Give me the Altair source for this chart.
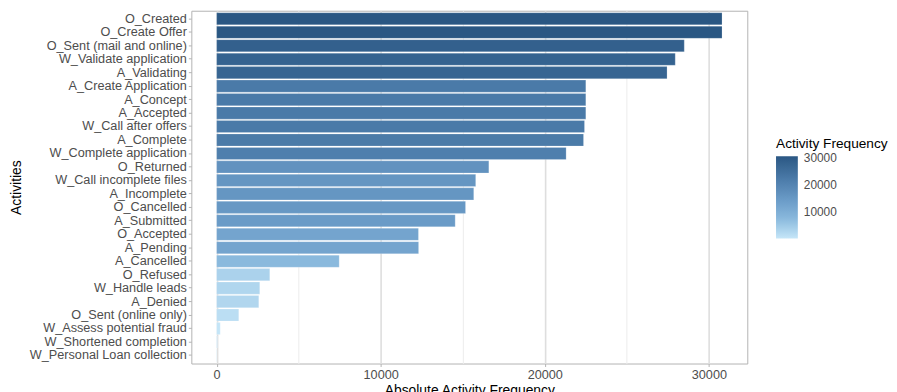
import altair as alt
import pandas as pd

activities = [
    "O_Created", "O_Create Offer", "O_Sent (mail and online)", "W_Validate application",
    "A_Validating", "A_Create Application", "A_Concept", "A_Accepted", "W_Call after offers",
    "A_Complete", "W_Complete application", "O_Returned", "W_Call incomplete files",
    "A_Incomplete", "O_Cancelled", "A_Submitted", "O_Accepted", "A_Pending", "A_Cancelled",
    "O_Refused", "W_Handle leads", "A_Denied", "O_Sent (online only)",
    "W_Assess potential fraud", "W_Shortened completion", "W_Personal Loan collection",
]
frequencies = [
    30800, 30800, 28500, 27950, 27450, 22500, 22500, 22500, 22420, 22360, 21300,
    16590, 15790, 15670, 15170, 14540, 12300, 12310, 7470, 3240, 2630, 2570, 1350,
    220, 50, 20,
]
x_ticks = [0, 5000, 10000, 15000, 20000, 25000, 30000]
legend_ticks = [10000, 20000, 30000]

# colour ramp stops (fraction of the value range) and colours
ramp_stops = [0.0, 0.24, 0.47, 0.73, 1.0]
ramp_colors = ["#c6e6f8", "#8ab9dd", "#6a9bc7", "#4a7aa8", "#2a5783"]

df = pd.DataFrame({"Activity": activities, "Frequency": frequencies})

FONT = "Liberation Sans"
major = "datum.value % 10000 === 0"
x_max = max(frequencies)
x_pad = 0.05 * x_max
lo, hi = min(frequencies), max(frequencies)
color_domain = [lo + s * (hi - lo) for s in ramp_stops]

chart = (
    alt.Chart(df)
    .mark_bar(stroke="white", strokeWidth=0.6, strokeOpacity=0.35)
    .encode(
        x=alt.X(
            "Frequency:Q",
            title="Absolute Activity Frequency",
            scale=alt.Scale(domain=[-x_pad, x_max + x_pad], nice=False, zero=False),
            axis=alt.Axis(
                values=x_ticks,
                format="d",
                labelExpr="datum.value % 10000 === 0 ? datum.label : ''",
                gridColor={"condition": {"test": major, "value": "#dedede"}, "value": "#ececec"},
                gridWidth={"condition": {"test": major, "value": 1.6}, "value": 1},
                tickOpacity={"condition": {"test": major, "value": 1}, "value": 0},
                tickColor="#b3b3b3",
                tickSize=3,
                labelPadding=2,
                titlePadding=2,
                domain=False,
            ),
        ),
        y=alt.Y(
            "Activity:N",
            title="Activities",
            sort=activities,
            scale=alt.Scale(paddingInner=0.1, paddingOuter=0.15),
            axis=alt.Axis(
                gridColor="#e6e6e6",
                gridWidth=1.6,
                bandPosition=0.5,
                tickColor="#b3b3b3",
                tickSize=3,
                labelPadding=2,
                titleX=-176,
                titleY=178,
                titleBaseline="middle",
                domain=False,
            ),
        ),
        color=alt.Color(
            "Frequency:Q",
            title="Activity Frequency",
            scale=alt.Scale(domain=color_domain, range=ramp_colors),
            legend=alt.Legend(
                orient="none",
                legendX=590,
                legendY=128,
                values=legend_ticks,
                format="d",
                gradientLength=83,
                gradientThickness=22,
                gradientStrokeWidth=0,
                labelOffset=6,
            ),
        ),
    )
    .properties(
        width=561,
        height=356,
        autosize=alt.AutoSizeParams(type="none"),
        padding={"left": 185, "top": 1, "right": 143, "bottom": 30},
    )
    .configure_view(stroke="#b3b3b3", strokeWidth=1)
    .configure_axis(
        labelFont=FONT,
        labelFontSize=12.8,
        labelColor="#4d4d4d",
        titleFont=FONT,
        titleFontSize=14,
        titleColor="#000000",
        titleFontWeight="normal",
    )
    .configure_legend(
        labelFont=FONT,
        labelFontSize=12,
        labelColor="#4d4d4d",
        titleFont=FONT,
        titleFontSize=13.8,
        titleColor="#000000",
        titleFontWeight="normal",
    )
)

chart.save("out.html", embed_options={"renderer": "svg", "actions": False})
